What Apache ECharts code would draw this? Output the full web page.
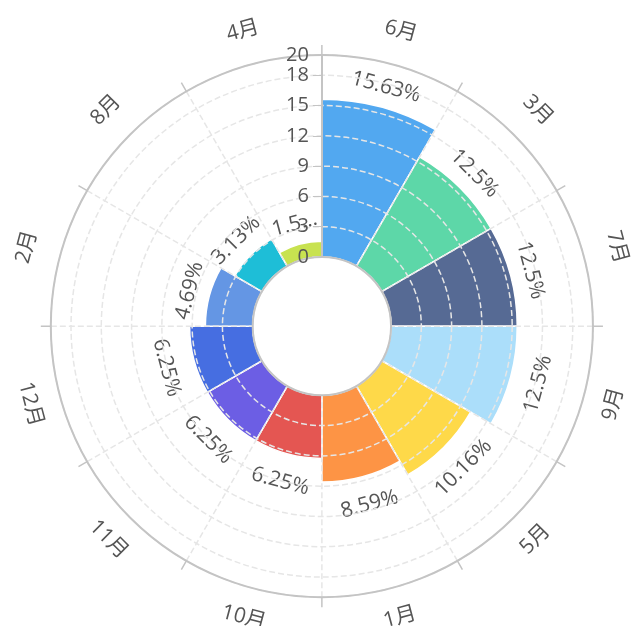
<!DOCTYPE html>
<html>
<head>
<meta charset="utf-8">
<script src="https://cdn.jsdelivr.net/npm/echarts@6/dist/echarts.min.js"></script>
<style>
html,body{margin:0;padding:0;background:#fff;}
#main{width:633px;height:626px;}
</style>
</head>
<body>
<div id="main"></div>
<script>
const months = ['6月','3月','7月','9月','5月','1月','10月','11月','12月','2月','8月','4月'];
const percents = [15.63, 12.5, 12.5, 12.5, 10.16, 8.59, 6.25, 6.25, 6.25, 4.69, 3.13, 1.56];
const barColors = ['#52A8F0','#5DD7A8','#566A94','#ABDEFA','#FED949','#FD9445','#E45652','#6C5EE4','#466EE1','#6496E4','#1EBED7','#C8E250'];
const radiusMax = 20;
const radiusInterval = 3;

const FONT = '"Open Sans", "Noto Sans CJK SC", sans-serif';
const W = 633, H = 626;
const polarRadius = [0.221, 0.866];
const LABEL_DIST = 10;
const LABEL_SIZE = 21;

// angle of a category centre, clockwise from top (degrees)
function midAngle(i, n) { return (i + 0.5) * 360 / n; }
function isFlipped(i, n) { const a = midAngle(i, n); return a > 90 && a < 270; }
// readable tangential rotation (radians, counter-clockwise positive)
function tangentRotate(i, n) {
  const a = midAngle(i, n);
  let r = a;
  if (a > 90 && a < 270) r = a - 180;
  if (r >= 270) r = r - 360;
  return -r * Math.PI / 180;
}
// label width limit = arc length of the sector at the label's radius
function arcWidth(v, n) {
  const half = Math.min(W, H) / 2;
  const r0 = polarRadius[0] * half, r1 = polarRadius[1] * half;
  const r = r0 + (r1 - r0) * v / radiusMax + LABEL_DIST + LABEL_SIZE / 2;
  return r * 2 * Math.PI / n;
}

const chart = echarts.init(document.getElementById('main'));
chart.setOption({
  animation: false,
  polar: { center: ['50.85%', '52.1%'], radius: [(polarRadius[0] * 100) + '%', (polarRadius[1] * 100) + '%'] },
  angleAxis: {
    type: 'category',
    data: months,
    startAngle: 90,
    clockwise: true,
    z: 10,
    axisLine: { show: true, lineStyle: { color: '#c4c4c4', width: 2 } },
    axisTick: { show: true, length: 10, lineStyle: { color: '#c4c4c4', width: 1.5 } },
    axisLabel: { show: false },
    splitLine: { show: true, lineStyle: { color: '#e6e6e6', type: 'dashed', width: 1.5 } }
  },
  radiusAxis: {
    type: 'value',
    min: 0,
    max: radiusMax,
    interval: radiusInterval,
    z: 10,
    axisLine: { show: true, lineStyle: { color: '#c4c4c4', width: 2 } },
    axisTick: { show: true, length: 9, lineStyle: { color: '#c4c4c4' } },
    axisLabel: { show: true, color: '#555', fontSize: 20, fontFamily: FONT, margin: 13 },
    splitLine: { show: true, lineStyle: { color: '#e6e6e6', type: 'dashed', width: 1.5 } }
  },
  series: [{
    type: 'bar',
    coordinateSystem: 'polar',
    barCategoryGap: '0%',
    z: 2,
    itemStyle: { borderColor: '#fff', borderWidth: 1.5 },
    label: {
      show: true,
      position: 'end',
      color: '#555',
      fontSize: LABEL_SIZE,
      fontFamily: FONT,
      distance: LABEL_DIST,
      overflow: 'truncate',
      formatter: p => p.value + '%'
    },
    data: percents.map((v, i) => {
      const lab = { rotate: tangentRotate(i, percents.length), width: arcWidth(v, percents.length) };
      if (isFlipped(i, percents.length)) { lab.verticalAlign = 'top'; lab.distance = LABEL_DIST + 8; }
      return { value: v, itemStyle: { color: barColors[i] }, label: lab };
    })
  }, {
    // category labels on the outer ring
    type: 'bar',
    coordinateSystem: 'polar',
    barCategoryGap: '0%',
    barGap: '-100%',
    silent: true,
    z: 1,
    itemStyle: { color: 'rgba(0,0,0,0)' },
    label: {
      show: true,
      position: 'end',
      color: '#555',
      fontSize: 21,
      fontFamily: FONT,
      distance: 24,
      formatter: p => p.name
    },
    data: months.map((m, i) => {
      const lab = { rotate: tangentRotate(i, months.length) };
      if (isFlipped(i, months.length)) { lab.verticalAlign = 'top'; lab.distance = 20; }
      return { value: radiusMax, label: lab };
    })
  }]
});
</script>
</body>
</html>
